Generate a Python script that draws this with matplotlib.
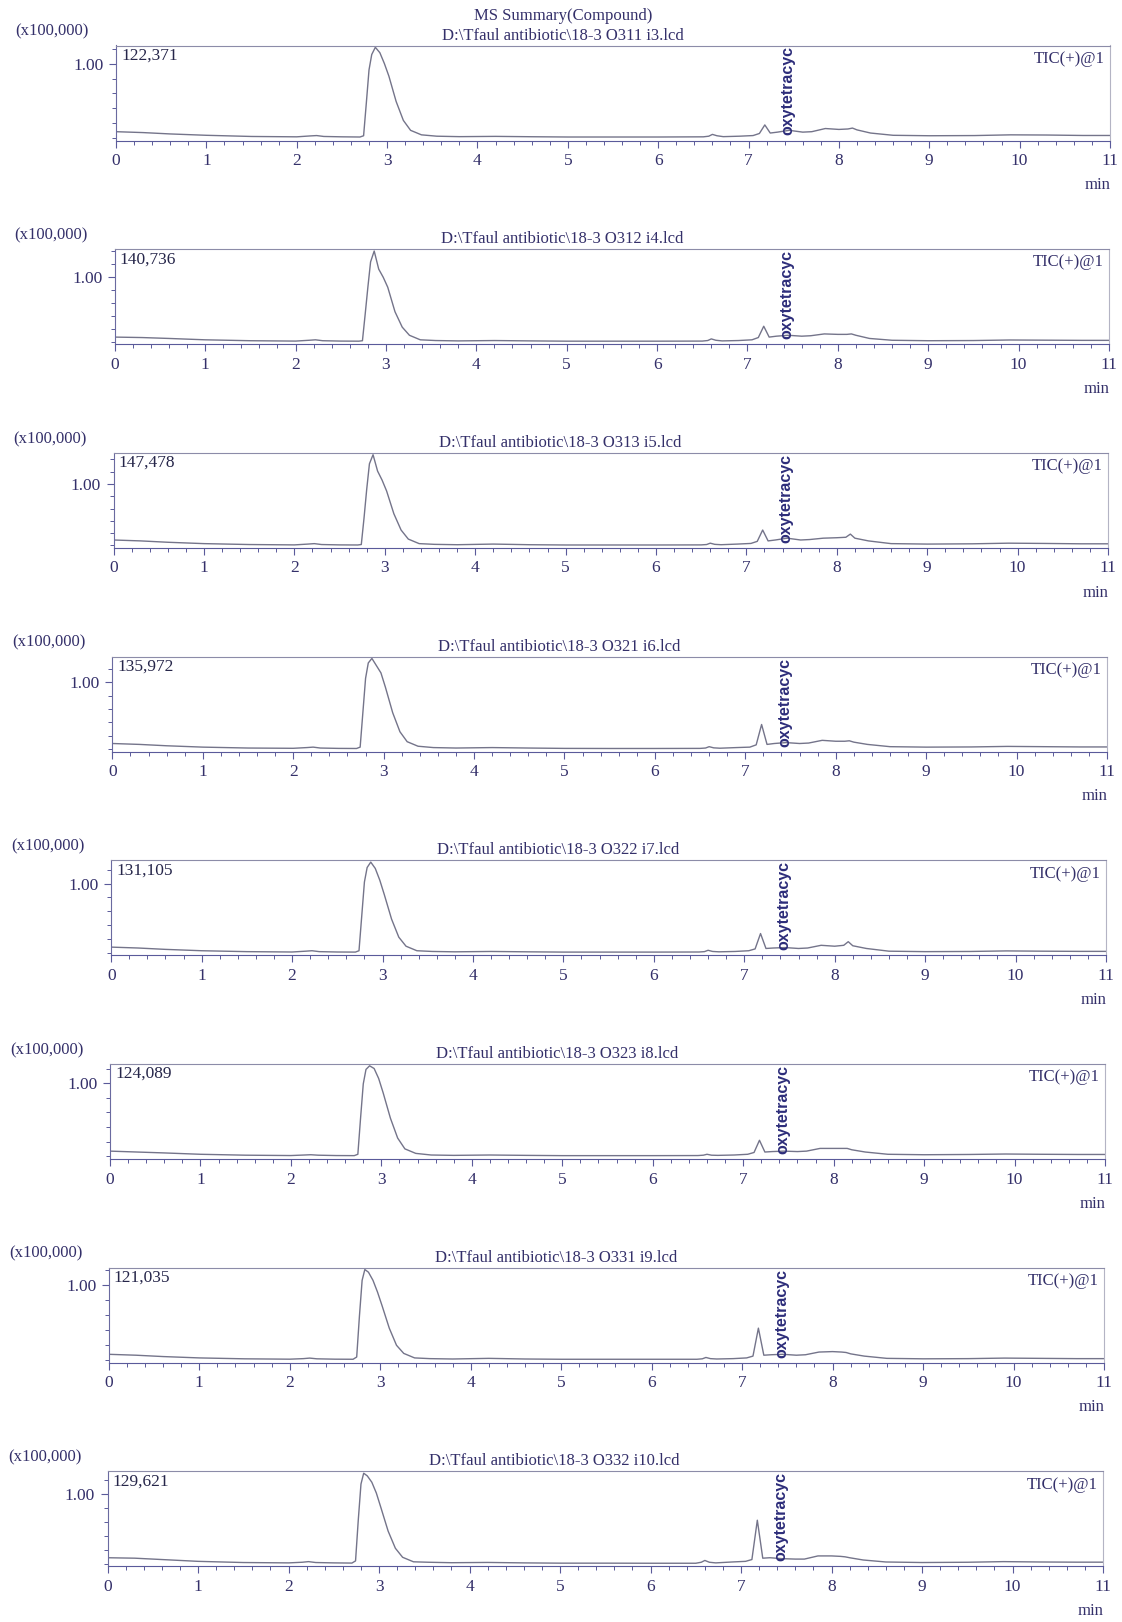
import numpy as np
import matplotlib.pyplot as plt
from matplotlib.ticker import MultipleLocator

# retention time grid (min)
t = [0.0, 0.3, 0.6, 1.0, 1.5, 2.0, 2.15, 2.22, 2.3, 2.5, 2.7,
     2.74, 2.77, 2.8, 2.83, 2.87, 2.92, 2.97, 3.02, 3.1, 3.18, 3.26, 3.38,
     3.55, 3.8, 4.2, 4.6, 5.0, 5.5, 6.0, 6.5, 6.56, 6.6, 6.65, 6.72, 6.9,
     7.05, 7.12, 7.18, 7.24, 7.32, 7.45, 7.6, 7.7, 7.85, 8.0, 8.1, 8.15, 8.2,
     8.35, 8.6, 9.0, 9.5, 9.9, 10.3, 10.7, 11.0]

files = ["O311 i3", "O312 i4", "O313 i5", "O321 i6", "O322 i7", "O323 i8", "O331 i9", "O332 i10"]
max_int = [122371, 140736, 147478, 135972, 131105, 124089, 121035, 129621]
max_lbl = ["122,371", "140,736", "147,478", "135,972", "131,105", "124,089", "121,035", "129,621"]

# relative intensity (% of the largest peak in each run)
rel1 = [6.5, 5.5, 4, 2.5, 1.2, 0.8, 1.8, 2.2, 1.2, 0.8, 0.6,
        2, 38, 75, 92, 100, 94, 82, 68, 40, 19, 8, 3,
        1.5, 1, 1.3, 0.9, 0.6, 0.6, 0.6, 0.8, 1.5, 3.5, 2, 1, 1.5, 2.2, 4.5, 14, 5, 6, 8, 6,
        6.5, 10, 9, 9.5, 10.5, 8.5, 5, 2.5, 2, 2.2, 3, 2.8, 2.3, 2.3]
rel2 = [5, 4.5, 3.5, 2, 1, 0.6, 1.5, 2, 1, 0.6, 0.5,
        1, 30, 60, 88, 100, 80, 71, 60, 33, 16, 7, 2,
        1.2, 0.8, 1.2, 0.8, 0.5, 0.5, 0.5, 0.6, 1.2, 3, 1.5, 0.8, 1.2, 2, 4.5, 17, 5, 6, 7, 6,
        6.5, 8.5, 8, 8, 8.5, 7, 3.5, 1.5, 1, 1.2, 1.8, 1.6, 1.4, 1.4]
rel3 = [6, 5, 3.5, 2, 1, 0.6, 1.5, 2, 1, 0.6, 0.5,
        1, 30, 62, 90, 100, 82, 72, 60, 35, 17, 7, 2,
        1.2, 0.8, 1.5, 0.8, 0.5, 0.5, 0.5, 0.6, 1, 2.5, 1.2, 0.8, 1.5, 2.2, 4.5, 17, 5, 6, 8, 6,
        6.5, 8, 8.5, 9, 12.5, 8, 5, 2, 1.5, 1.8, 2.5, 2.2, 1.8, 1.8]
rel4 = [6, 5, 3.5, 2, 1, 0.7, 1.5, 2, 1, 0.6, 0.5,
        2, 40, 78, 95, 100, 92, 84, 68, 40, 19, 8, 3,
        1.5, 1, 1.5, 1, 0.6, 0.5, 0.5, 0.6, 1, 2.5, 1.2, 0.8, 1.5, 2, 4.5, 27, 5, 6, 7, 6,
        6.5, 9.5, 8.5, 8.5, 9, 7.5, 5, 2.5, 2, 2.2, 2.8, 2.5, 2.2, 2.2]
rel5 = [6, 5, 3.5, 2, 1, 0.6, 1.5, 2, 1, 0.6, 0.5,
        2, 40, 78, 94, 100, 93, 80, 64, 37, 17, 7, 2,
        1.2, 0.8, 1.2, 0.8, 0.5, 0.5, 0.5, 0.6, 1, 2.5, 1.2, 0.8, 1.2, 2, 4, 21, 4.5, 5, 5.5, 4.5,
        5, 8, 7, 8, 12, 7.5, 4.5, 1.5, 1, 1.2, 1.8, 1.5, 1.3, 1.3]
rel6 = [5.5, 4.5, 3.5, 2, 1, 0.6, 1.2, 1.5, 1, 0.6, 0.5,
        2, 42, 80, 96, 100, 97, 86, 70, 42, 20, 8, 3,
        1.2, 0.8, 1.2, 0.8, 0.5, 0.5, 0.5, 0.6, 1, 2, 1, 0.8, 1.2, 2, 4, 17.5, 4.5, 5, 5.5, 5,
        5.5, 8.5, 8.5, 8.5, 8.5, 7, 4.5, 2, 1.5, 1.8, 2.3, 2, 1.8, 1.8]
rel7 = [6, 5, 3.5, 2, 1, 0.6, 1.2, 1.8, 1, 0.6, 0.5,
        3, 48, 88, 100, 97, 88, 75, 60, 35, 16, 7, 2,
        1.2, 0.8, 1.5, 0.8, 0.5, 0.5, 0.5, 0.5, 1, 2.5, 1.2, 0.8, 1.2, 2, 4, 35, 5, 5.5, 6, 5,
        5.5, 8.5, 9, 8.5, 8, 6.5, 4, 1.5, 1, 1.2, 1.8, 1.5, 1.2, 1.2]
rel8 = [6.5, 6, 4.5, 2.5, 1.2, 0.8, 1.5, 2.2, 1.2, 0.8, 0.6,
        3, 48, 88, 100, 97, 90, 78, 62, 36, 17, 7, 2,
        1.5, 1, 1.3, 0.8, 0.5, 0.5, 0.4, 0.4, 1.5, 3.5, 1.5, 0.8, 1.8, 2.5, 4.5, 48, 6, 6.5, 5.5, 5,
        5, 8.5, 8.5, 8, 7.5, 6.5, 4, 1.8, 1.2, 1.5, 2.2, 1.8, 1.6, 1.6]
runs = [rel1, rel2, rel3, rel4, rel5, rel6, rel7, rel8]

W, H = 1122, 1622
navy = "#34306a"
serif = "Liberation Serif"

fig = plt.figure(figsize=(W / 100, H / 100), dpi=100)
fig.patch.set_facecolor("white")
fig.text(563 / W, 1 - 16.5 / H, "MS Summary(Compound)", ha="center", va="center",
         fontsize=12, family=serif, color=navy)

for i, rel in enumerate(runs):
    top = 45.5 + 203.7 * i
    bot = top + 95
    left = 116 - 1.2 * i
    right = 1110 - 1.0 * i
    ax = fig.add_axes([left / W, 1 - bot / H, (right - left) / W, (bot - top) / H])

    ymax = max_int[i] / 1e5
    y = np.array(rel) / 100 * ymax
    ax.plot(t, y, color="#74748a", lw=1.0)
    ax.set_xlim(0, 11)
    ax.set_ylim(-0.04, ymax * 1.02)

    ax.set_xticks(range(12))
    ax.set_xticklabels([str(k) for k in range(12)])
    ax.xaxis.set_minor_locator(MultipleLocator(0.2))
    ax.set_yticks([1.0])
    ax.set_yticklabels(["1.00"])
    ax.yaxis.set_minor_locator(MultipleLocator(0.2))
    ax.tick_params(which="major", direction="out", length=5, width=0.8, color="#5a5a9a",
                   labelsize=12.5, labelcolor=navy, pad=4)
    ax.tick_params(which="minor", direction="out", length=3, width=0.7, color="#5a5a9a")
    for lab in ax.get_xticklabels() + ax.get_yticklabels():
        lab.set_family(serif)

    ax.spines["top"].set_color("#8c8ca8")
    ax.spines["right"].set_color("#b4b4c4")
    ax.spines["left"].set_color("#6a6aa0")
    ax.spines["bottom"].set_color("#5a5a9a")
    for s in ax.spines.values():
        s.set_linewidth(0.8)

    fig.text((15.5 - 1.0 * i) / W, 1 - (top - 14) / H, "(x100,000)", ha="left", va="center",
             fontsize=12, family=serif, color=navy)
    fig.text((563 - 1.2 * i) / W, 1 - (top - 10) / H,
             "D:\\Tfaul antibiotic\\18-3 " + files[i] + ".lcd",
             ha="center", va="center", fontsize=12, family=serif, color=navy)
    ax.text(0.005, 0.895, max_lbl[i], transform=ax.transAxes, ha="left", va="center",
            fontsize=12.5, family=serif, color="#26264a")
    ax.text(0.995, 0.86, "TIC(+)@1", transform=ax.transAxes, ha="right", va="center",
            fontsize=12, family=serif, color=navy)
    ax.text(1.0, -0.47, "min", transform=ax.transAxes, ha="right", va="center",
            fontsize=12, family=serif, color=navy, clip_on=False)
    ax.text(7.44, 0.99, "oxytetracyc", transform=ax.get_xaxis_transform(), rotation=90,
            ha="center", va="top", fontsize=11.5, fontweight="bold",
            family="Liberation Sans", color="#2d2d7a")

fig.savefig("out.png", dpi=100, facecolor="white")
